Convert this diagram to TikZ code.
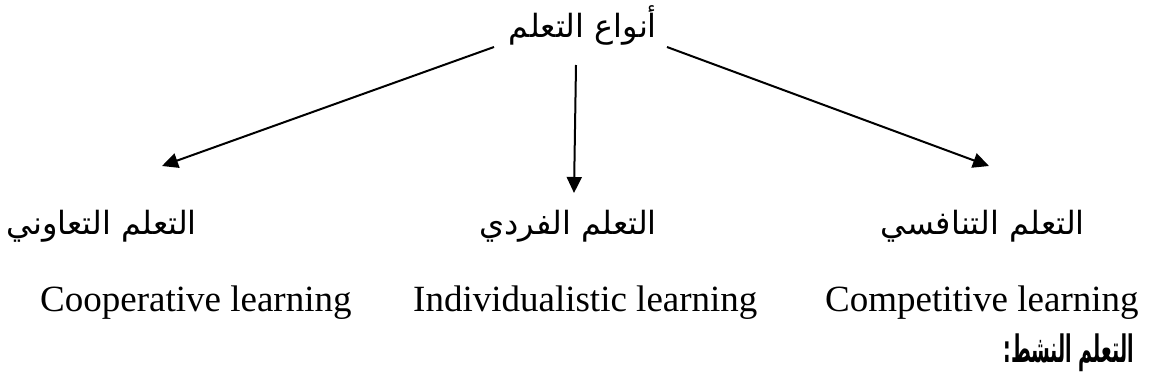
\documentclass[tikz,border=0pt]{standalone}
\usepackage{fontspec}
\setmainfont{Liberation Serif}
\newfontfamily\arabicfont[Script=Arabic]{DejaVu Sans}
\newfontfamily\arabicbold[Script=Arabic]{DejaVu Sans Bold}
\TeXXeTstate=1
\usetikzlibrary{arrows.meta}
\begin{document}
\begin{tikzpicture}[x=1pt,y=-1pt,
  arlabel/.style={font=\arabicfont\fontsize{32}{38}\selectfont, inner sep=0pt, anchor=base east},
  arhead/.style={font=\arabicbold\fontsize{28}{34}\selectfont, inner sep=0pt, anchor=base east},
  enlabel/.style={font=\fontsize{37}{40}\selectfont, inner sep=0pt, anchor=base west},
  link/.style={line width=2pt, -{Triangle[length=16pt,width=15pt]}}]
\useasboundingbox (0,0) rectangle (1151,389);

% root of the tree
\node[arlabel] (root) at (657,37) {\beginR أنواع التعلم\endR};

% the three kinds, Arabic names
\node[arlabel] (coop) at (197,234) {\beginR التعلم التعاوني\endR};
\node[arlabel] (indiv) at (657,234) {\beginR التعلم الفردي\endR};
\node[arlabel] (comp) at (1085,234) {\beginR التعلم التنافسي\endR};

% English names
\node[enlabel] (coopEn) at (40,311) {Cooperative learning};
\node[enlabel] (indivEn) at (413,311) {Individualistic learning};
\node[enlabel] (compEn) at (825,311) {Competitive learning};

% heading of the next section, narrow and tall bold
\node[arhead] (active) at (1134,362) {\scalebox{0.68}[1.35]{\beginR التعلم النشط:\endR}};

% connector ends
\coordinate (sL) at (494,47);
\coordinate (sM) at (576,65);
\coordinate (sR) at (667,47);
\coordinate (tL) at (162,166);
\coordinate (tM) at (574,193);
\coordinate (tR) at (989,166);

\draw[link] (sL) -- (tL);
\draw[link] (sM) -- (tM);
\draw[link] (sR) -- (tR);
\end{tikzpicture}
\end{document}
